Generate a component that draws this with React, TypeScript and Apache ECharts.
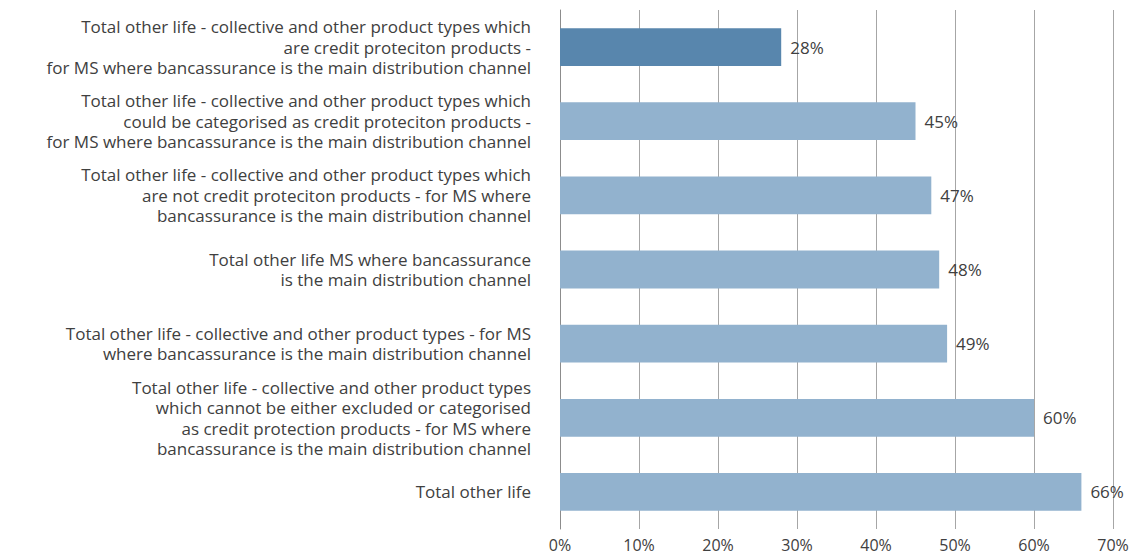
import React, { useEffect, useRef } from "react";
import * as echarts from "echarts";

const categories: string[] = [
  "Total other life - collective and other product types which\nare credit proteciton products -\nfor MS where bancassurance is the main distribution channel",
  "Total other life - collective and other product types which\ncould be categorised as credit proteciton products -\nfor MS where bancassurance is the main distribution channel",
  "Total other life - collective and other product types which\nare not credit proteciton products - for MS where\nbancassurance is the main distribution channel",
  "Total other life MS where bancassurance\nis the main distribution channel",
  "Total other life - collective and other product types - for MS\nwhere bancassurance is the main distribution channel",
  "Total other life - collective and other product types\nwhich cannot be either excluded or categorised\nas credit protection products - for MS where\nbancassurance is the main distribution channel",
  "Total other life",
];

const values: number[] = [28, 45, 47, 48, 49, 60, 66];
const highlighted: boolean[] = [true, false, false, false, false, false, false];
const xTicks: number[] = [0, 10, 20, 30, 40, 50, 60, 70];

const FONT = "'Open Sans', sans-serif";
const TEXT = "#404040";

export default function App() {
  const ref = useRef<HTMLDivElement>(null);
  useEffect(() => {
    if (!ref.current) return;
    const chart = echarts.init(ref.current, null, { renderer: "svg" });
    chart.setOption({
      animation: false,
      grid: { left: 560, right: 27, top: 10, bottom: 26, containLabel: false },
      xAxis: {
        type: "value",
        min: xTicks[0],
        max: xTicks[xTicks.length - 1],
        interval: 10,
        axisLine: { show: false },
        axisTick: { show: false },
        splitLine: { show: true, lineStyle: { color: "#a6a6a6", width: 1 } },
        axisLabel: {
          formatter: (v: number) => `${v}%`,
          color: TEXT,
          fontFamily: FONT,
          fontSize: 16,
          lineHeight: 18,
          margin: 7,
        },
      },
      yAxis: {
        type: "category",
        data: categories,
        inverse: true,
        axisLine: { show: true, lineStyle: { color: "#8c8c8c", width: 1 } },
        axisTick: { show: false },
        axisLabel: {
          color: TEXT,
          fontFamily: FONT,
          fontSize: 17,
          lineHeight: 20.5,
          margin: 29,
          align: "right",
          padding: [0, 0, 6, 0],
        },
      },
      series: [
        {
          type: "bar",
          data: values.map((v, i) => ({
            value: v,
            itemStyle: { color: highlighted[i] ? "#5886ad" : "#92b2ce" },
          })),
          barCategoryGap: "49%",
          label: {
            show: true,
            position: "right",
            distance: 9,
            formatter: (p: any) => `${p.value}%`,
            color: TEXT,
            fontFamily: FONT,
            fontSize: 17,
          },
        },
      ],
    });
    return () => chart.dispose();
  }, []);
  return (
    <div
      ref={ref}
      style={{ position: "fixed", left: 0, top: 0, width: 1140, height: 555, background: "#fff" }}
    />
  );
}
